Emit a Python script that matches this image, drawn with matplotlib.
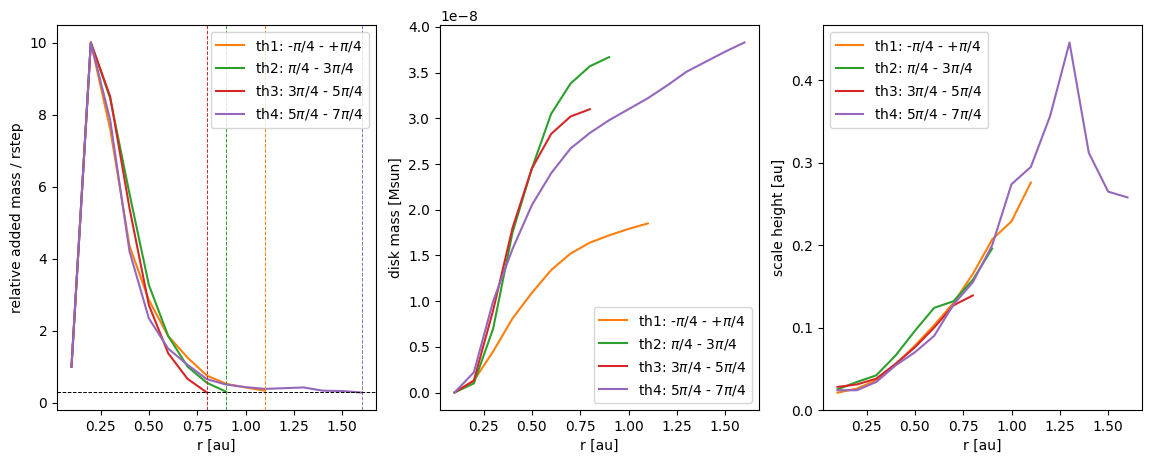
import numpy as np
import matplotlib
matplotlib.use('Agg')
import matplotlib.pyplot as plt

# radii for each sector (step 0.1 au)
r_th1 = [0.1, 0.2, 0.3, 0.4, 0.5, 0.6, 0.7, 0.8, 0.9, 1.0, 1.1]
r_th2 = [0.1, 0.2, 0.3, 0.4, 0.5, 0.6, 0.7, 0.8, 0.9]
r_th3 = [0.1, 0.2, 0.3, 0.4, 0.5, 0.6, 0.7, 0.8]
r_th4 = [0.1, 0.2, 0.3, 0.4, 0.5, 0.6, 0.7, 0.8, 0.9, 1.0, 1.1, 1.2, 1.3, 1.4, 1.5, 1.6]

# relative added mass / rstep
dm_th1 = [1.0, 10.0, 7.6, 4.35, 2.85, 1.85, 1.25, 0.75, 0.52, 0.42, 0.33]
dm_th2 = [1.0, 10.0, 8.45, 5.8, 3.27, 1.85, 1.0, 0.55, 0.3]
dm_th3 = [1.0, 10.0, 8.5, 5.4, 2.71, 1.37, 0.66, 0.28]
dm_th4 = [1.0, 10.0, 7.85, 4.2, 2.34, 1.5, 1.05, 0.65, 0.5, 0.43, 0.38, 0.4, 0.42, 0.33, 0.32, 0.28]
threshold = 0.3

# disk mass [Msun]
m_th1 = [0.0, 0.13, 0.45, 0.81, 1.09, 1.34, 1.52, 1.64, 1.72, 1.79, 1.85]
m_th2 = [0.0, 0.10, 0.70, 1.75, 2.45, 3.05, 3.38, 3.57, 3.67]
m_th3 = [0.0, 0.13, 0.90, 1.80, 2.45, 2.83, 3.02, 3.10]
m_th4 = [0.0, 0.22, 1.00, 1.57, 2.05, 2.40, 2.67, 2.84, 2.98, 3.10, 3.22, 3.36, 3.51, 3.62, 3.73, 3.83]

# scale height [au]
h_th1 = [0.021, 0.026, 0.036, 0.055, 0.078, 0.103, 0.130, 0.165, 0.207, 0.229, 0.276]
h_th2 = [0.025, 0.034, 0.042, 0.066, 0.096, 0.124, 0.132, 0.158, 0.196]
h_th3 = [0.028, 0.031, 0.038, 0.056, 0.076, 0.100, 0.127, 0.139]
h_th4 = [0.024, 0.024, 0.034, 0.054, 0.070, 0.090, 0.128, 0.155, 0.200, 0.274, 0.295, 0.357, 0.446, 0.312, 0.265, 0.258]

labels = ['th1: -$\\pi$/4 - +$\\pi$/4', 'th2: $\\pi$/4 - 3$\\pi$/4',
          'th3: 3$\\pi$/4 - 5$\\pi$/4', 'th4: 5$\\pi$/4 - 7$\\pi$/4']
colors = ['#ff7f0e', '#2ca02c', '#d62728', '#9467bd']

radii = [r_th1, r_th2, r_th3, r_th4]
dmass = [dm_th1, dm_th2, dm_th3, dm_th4]
mass = [m_th1, m_th2, m_th3, m_th4]
height = [h_th1, h_th2, h_th3, h_th4]

fig = plt.figure(figsize=(11.51, 4.63), dpi=100)
W, H = 1151, 463
ax1 = fig.add_axes([57/W, 53/H, 319/W, 385/H])
ax2 = fig.add_axes([440/W, 53/H, 319/W, 385/H])
ax3 = fig.add_axes([823/W, 53/H, 319/W, 385/H])

for r, d, c, l in zip(radii, dmass, colors, labels):
    ax1.plot(r, d, color=c, label=l)
for r, c in zip(radii, colors):
    ax1.axvline(r[-1], color=c, ls='--', lw=0.7)
ax1.axhline(threshold, color='k', ls='--', lw=0.7)
ax1.set_xlabel('r [au]')
ax1.set_ylabel('relative added mass / rstep')
ax1.legend(loc='upper right')

for r, m, c, l in zip(radii, mass, colors, labels):
    ax2.plot(r, np.array(m) * 1e-8, color=c, label=l)
ax2.set_xlabel('r [au]')
ax2.set_ylabel('disk mass [Msun]')
ax2.legend(loc='lower right')

for r, h, c, l in zip(radii, height, colors, labels):
    ax3.plot(r, h, color=c, label=l)
ax3.set_ylim(bottom=0)
ax3.set_xlabel('r [au]')
ax3.set_ylabel('scale height [au]')
ax3.legend(loc='upper left')

fig.savefig('out.png', dpi=100)
